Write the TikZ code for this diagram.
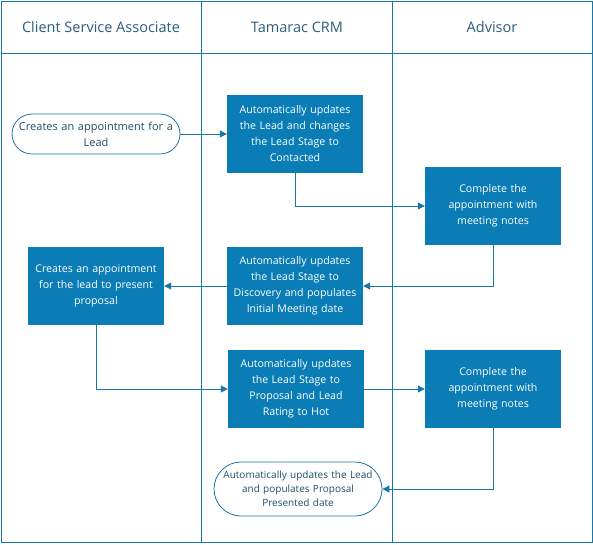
\documentclass[tikz,border=0pt]{standalone}
\usepackage{fontspec}
\setmainfont{Open Sans}
\usepackage{xcolor}
\usetikzlibrary{arrows.meta}
\definecolor{laneblue}{HTML}{1A76A6}
\definecolor{boxblue}{HTML}{0A7DB6}
\definecolor{headtext}{HTML}{2A5D78}
\definecolor{termtext}{HTML}{1E4E68}

\begin{document}
\begin{tikzpicture}[x=1pt,y=-1pt,
    lane/.style={draw=laneblue,line width=1pt},
    lanehead/.style={text=headtext,font=\fontsize{14.5}{17}\selectfont},
    stepbox/.style={fill=boxblue,text=white,minimum width=136pt,minimum height=78pt,
        text width=134pt,align=center,inner sep=0pt,font=\fontsize{10.6}{16}\selectfont},
    termbox/.style={draw=laneblue,line width=0.8pt,text=termtext,
        minimum width=168pt,text width=166pt,inner sep=0pt,align=center},
    flow/.style={draw=laneblue,line width=1pt,-{Triangle[length=7pt,width=7pt]}}]
    \useasboundingbox (0,0) rectangle (593,544);
    \draw[lane] (1,1) rectangle (592,542);
    \draw[lane] (201,1) -- (201,542);
    \draw[lane] (392,1) -- (392,542);
    \draw[lane] (1,53) -- (592,53);

    \node[lanehead] (hcsa) at (101,27) {Client Service Associate};
    \node[lanehead] (hcrm) at (297,27) {Tamarac CRM};
    \node[lanehead] (hadv) at (492,27) {Advisor};

    \node[termbox,minimum height=40pt,rounded corners=20pt,font=\fontsize{11}{16}\selectfont]
        (start) at (96,134) {Creates an appointment for a\\Lead};
    \node[stepbox] (contacted) at (295,134)
        {Automatically updates\\the Lead and changes\\the Lead Stage to\\Contacted};
    \node[stepbox] (notesa) at (493,206)
        {Complete the\\appointment with\\meeting notes};
    \node[stepbox] (discovery) at (295,286)
        {Automatically updates\\the Lead Stage to\\Discovery and populates\\Initial Meeting date};
    \node[stepbox] (present) at (96,286)
        {Creates an appointment\\for the lead to present\\proposal};
    \node[stepbox] (proposal) at (296,389)
        {Automatically updates\\the Lead Stage to\\Proposal and Lead\\Rating to Hot};
    \node[stepbox] (notesb) at (493,389)
        {Complete the\\appointment with\\meeting notes};
    \node[termbox,minimum height=54pt,rounded corners=27pt,font=\fontsize{10}{14}\selectfont]
        (done) at (298,489) {Automatically updates the Lead\\and populates Proposal\\Presented date};

    \draw[flow] (start) -- (contacted);
    \draw[flow] (contacted.south) |- (notesa.west);
    \draw[flow] (notesa.south) |- (discovery.east);
    \draw[flow] (discovery.west) -- (present.east);
    \draw[flow] (present.south) |- (proposal.west);
    \draw[flow] (proposal) -- (notesb);
    \draw[flow] (notesb.south) |- (done.east);
\end{tikzpicture}
\end{document}
